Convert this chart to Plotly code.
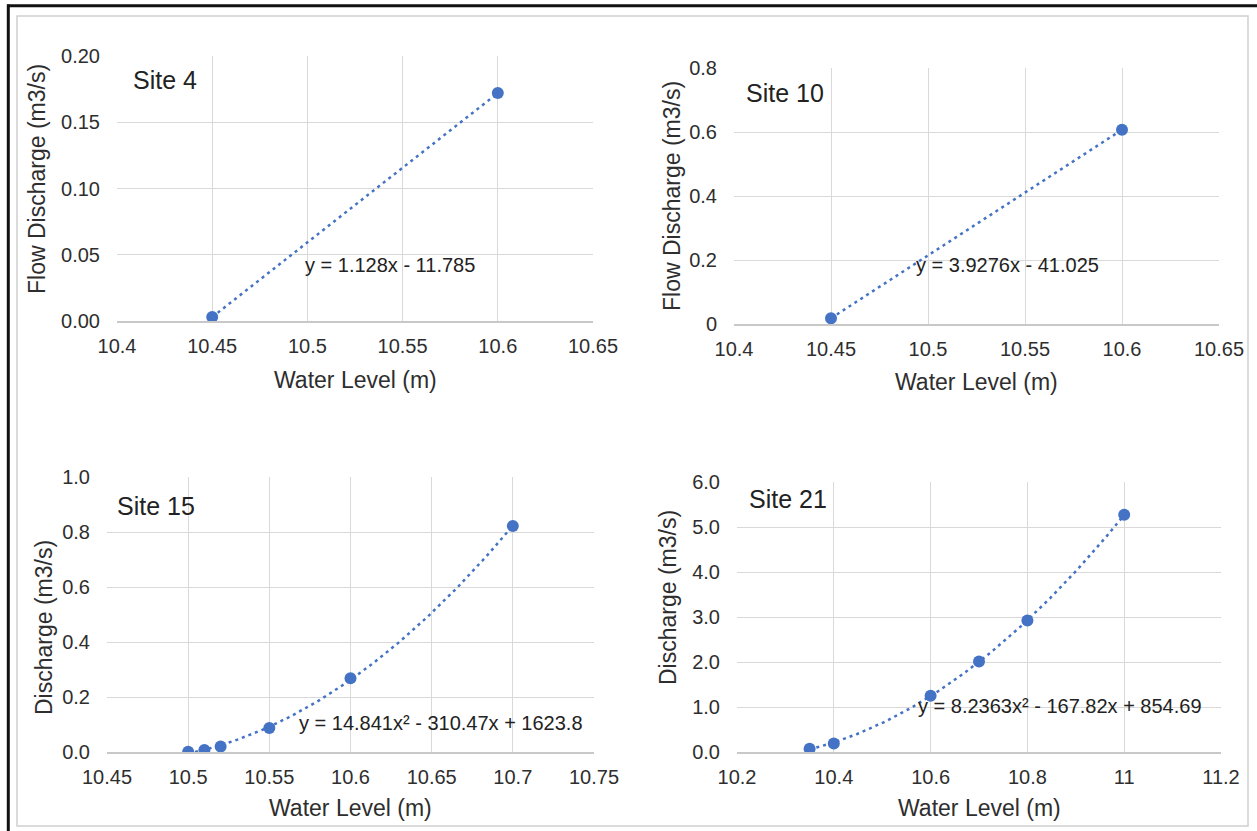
import numpy as np
import plotly.graph_objects as go

# ---- rating-curve observations (water level in m, discharge in m3/s) ----
site4_level = [10.45, 10.60]
site4_flow = [0.003, 0.172]

site10_level = [10.45, 10.60]
site10_flow = [0.018, 0.607]

site15_level = [10.50, 10.51, 10.52, 10.55, 10.60, 10.70]
site15_flow = [0.001, 0.007, 0.020, 0.087, 0.268, 0.822]

site21_level = [10.35, 10.40, 10.60, 10.70, 10.80, 11.00]
site21_flow = [0.07, 0.19, 1.25, 2.01, 2.92, 5.27]

# ---- tick labels ----
x_ticks_a = [10.4, 10.45, 10.5, 10.55, 10.6, 10.65]
x_text_a = ["10.4", "10.45", "10.5", "10.55", "10.6", "10.65"]
x_ticks_c = [10.45, 10.5, 10.55, 10.6, 10.65, 10.7, 10.75]
x_text_c = ["10.45", "10.5", "10.55", "10.6", "10.65", "10.7", "10.75"]
x_ticks_d = [10.2, 10.4, 10.6, 10.8, 11.0, 11.2]
x_text_d = ["10.2", "10.4", "10.6", "10.8", "11", "11.2"]

y_ticks_1 = [0, 0.05, 0.10, 0.15, 0.20]
y_text_1 = ["0.00", "0.05", "0.10", "0.15", "0.20"]
y_ticks_2 = [0, 0.2, 0.4, 0.6, 0.8]
y_text_2 = ["0", "0.2", "0.4", "0.6", "0.8"]
y_ticks_3 = [0, 0.2, 0.4, 0.6, 0.8, 1.0]
y_text_3 = ["0.0", "0.2", "0.4", "0.6", "0.8", "1.0"]
y_ticks_4 = [0, 1, 2, 3, 4, 5, 6]
y_text_4 = ["0.0", "1.0", "2.0", "3.0", "4.0", "5.0", "6.0"]

site_names = ["Site 4", "Site 10", "Site 15", "Site 21"]
equations = [
    "y = 1.128x - 11.785",
    "y = 3.9276x - 41.025",
    "y = 14.841x\u00b2 - 310.47x + 1623.8",
    "y = 8.2363x\u00b2 - 167.82x + 854.69",
]
y_titles = ["Flow Discharge (m3/s)", "Flow Discharge (m3/s)",
            "Discharge (m3/s)", "Discharge (m3/s)"]
x_title = "Water Level (m)"

W, H = 1257, 831
FONT = "Liberation Sans, Arial, sans-serif"
TXT = "#2e2e2e"
BLUE = "#4472C4"
GRID = "#d9d9d9"


def px(x):
    return x / W


def py(y):
    return 1 - y / H


# panel layout in pixels: (left, right, top, bottom)
boxes = [
    (117, 593, 56, 321),
    (734, 1219, 68, 324),
    (107, 594, 477, 752),
    (737, 1221, 482, 752),
]

series = [
    (site4_level, site4_flow, 1),
    (site10_level, site10_flow, 1),
    (site15_level, site15_flow, 2),
    (site21_level, site21_flow, 2),
]
xranges = [[10.4, 10.65], [10.4, 10.65], [10.45, 10.75], [10.2, 11.2]]
yranges = [[0, 0.2], [0, 0.8], [0, 1.0], [0, 6.0]]
xticks = [(x_ticks_a, x_text_a), (x_ticks_a, x_text_a),
          (x_ticks_c, x_text_c), (x_ticks_d, x_text_d)]
yticks = [(y_ticks_1, y_text_1), (y_ticks_2, y_text_2),
          (y_ticks_3, y_text_3), (y_ticks_4, y_text_4)]

# label placements (pixels)
site_pos = [(131, 80), (744, 93), (115, 506), (747, 499)]
eq_pos = [(303, 265), (914, 265), (297, 723), (916, 706)]
ytitle_x = [37, 672, 44, 668]
ytitle_y = [179, 196, 628, 598]
xtitle_y = [380, 382, 808, 808]

fig = go.Figure()
annotations = []

for i in range(4):
    sfx = "" if i == 0 else str(i + 1)
    xa, ya = "x" + sfx, "y" + sfx
    lvl, q, deg = series[i]

    # least-squares trendline over the observed range
    coef = np.polyfit(lvl, q, deg)
    xs = np.linspace(min(lvl), max(lvl), 120)
    fig.add_trace(go.Scatter(
        x=xs, y=np.polyval(coef, xs), mode="lines",
        line=dict(color=BLUE, width=2.5, dash="3px,4px"),
        xaxis=xa, yaxis=ya, showlegend=False, hoverinfo="skip"))
    fig.add_trace(go.Scatter(
        x=lvl, y=q, mode="markers",
        marker=dict(color=BLUE, size=12),
        xaxis=xa, yaxis=ya, showlegend=False))

    l, r, t, b = boxes[i]
    common = dict(showgrid=True, gridcolor=GRID, gridwidth=1.3,
                  zeroline=False, ticks="outside", tickcolor="rgba(0,0,0,0)",
                  automargin=False,
                  tickfont=dict(family=FONT, size=20, color=TXT))
    fig.layout["xaxis" + sfx] = dict(
        domain=[px(l), px(r)], anchor=ya, range=xranges[i],
        tickmode="array", tickvals=xticks[i][0], ticktext=xticks[i][1],
        ticklen=6, showline=True, linecolor="#c8c8c8", linewidth=1.5,
        **common)
    fig.layout["yaxis" + sfx] = dict(
        domain=[py(b), py(t)], anchor=xa, range=yranges[i],
        tickmode="array", tickvals=yticks[i][0], ticktext=yticks[i][1],
        ticklen=12, showline=False, **common)

    annotations.append(dict(
        text=site_names[i], x=px(site_pos[i][0]), y=py(site_pos[i][1]),
        xref="paper", yref="paper", xanchor="left", yanchor="middle",
        showarrow=False, font=dict(family=FONT, size=25, color="#222222")))
    annotations.append(dict(
        text=equations[i], x=px(eq_pos[i][0]), y=py(eq_pos[i][1]),
        xref="paper", yref="paper", xanchor="left", yanchor="middle",
        showarrow=False, font=dict(family=FONT, size=20, color="#222222")))
    annotations.append(dict(
        text=y_titles[i], x=px(ytitle_x[i]), y=py(ytitle_y[i]),
        xref="paper", yref="paper", xanchor="center", yanchor="middle",
        textangle=-90, showarrow=False,
        font=dict(family=FONT, size=23, color=TXT)))
    annotations.append(dict(
        text=x_title, x=px((l + r) / 2), y=py(xtitle_y[i]),
        xref="paper", yref="paper", xanchor="center", yanchor="middle",
        showarrow=False, font=dict(family=FONT, size=23, color=TXT)))

shapes = [
    # light chart-area border
    dict(type="rect", xref="paper", yref="paper",
         x0=px(17), x1=px(1248), y0=py(826), y1=py(16),
         line=dict(color="#d0d0d0", width=1.5)),
    # dark outer frame (left and top edges)
    dict(type="line", xref="paper", yref="paper",
         x0=px(8.3), x1=px(8.3), y0=py(4.5), y1=py(840),
         line=dict(color="#111111", width=3)),
    dict(type="line", xref="paper", yref="paper",
         x0=px(7), x1=px(1270), y0=py(5.7), y1=py(5.7),
         line=dict(color="#111111", width=3)),
]

fig.update_layout(
    template="none",
    width=W, height=H,
    margin=dict(l=0, r=0, t=0, b=0, pad=0, autoexpand=False),
    paper_bgcolor="white", plot_bgcolor="white",
    annotations=annotations, shapes=shapes,
    font=dict(family=FONT, color=TXT),
    showlegend=False,
)

fig.write_html("out.html")
